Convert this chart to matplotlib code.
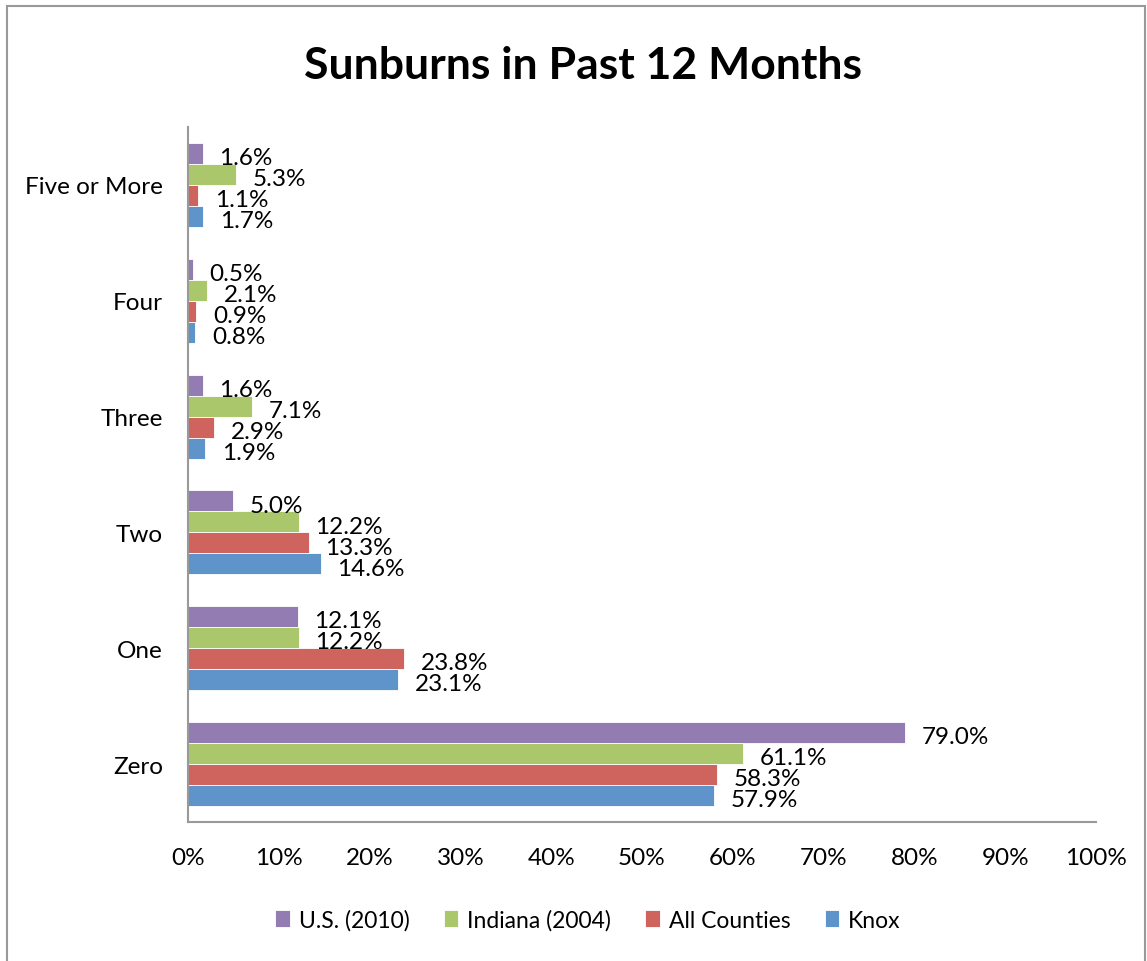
import numpy as np
import matplotlib.pyplot as plt
from matplotlib.patches import Rectangle

categories = ['Zero', 'One', 'Two', 'Three', 'Four', 'Five or More']
knox = [57.9, 23.1, 14.6, 1.9, 0.8, 1.7]
all_counties = [58.3, 23.8, 13.3, 2.9, 0.9, 1.1]
indiana = [61.1, 12.2, 12.2, 7.1, 2.1, 5.3]
us = [79.0, 12.1, 5.0, 1.6, 0.5, 1.6]
x_ticks = [0, 10, 20, 30, 40, 50, 60, 70, 80, 90, 100]

series = [
    ('Knox', knox, '#5F94CB'),
    ('All Counties', all_counties, '#CF645F'),
    ('Indiana (2004)', indiana, '#ABC76C'),
    ('U.S. (2010)', us, '#937CB2'),
]

plt.rcParams['font.family'] = ['Lato', 'DejaVu Sans']

fig = plt.figure(figsize=(11.47, 9.62), dpi=100)
ax = fig.add_axes([188/1147, 1 - 823/962, (1096 - 188)/1147, (823 - 128)/962])

y = np.arange(len(categories))
h = 0.181
handles = []
for i, (name, vals, col) in enumerate(series):
    pos = y + (i - 1.5) * h
    bars = ax.barh(pos, vals, height=h, color=col, edgecolor='white', linewidth=0.6, label=name)
    handles.append(bars)
    for p, v in zip(pos, vals):
        ax.annotate('{:.1f}%'.format(v), (v, p), xytext=(12, -3), textcoords='offset points',
                    ha='left', va='center', fontsize=17.5)

ax.set_xlim(0, 100)
ax.set_ylim(-0.5, 5.5)
ax.set_xticks(x_ticks)
ax.set_xticklabels(['{}%'.format(t) for t in x_ticks], fontsize=17.5)
ax.set_yticks(y)
ax.set_yticklabels(categories, fontsize=17.5)
ax.tick_params(axis='x', length=0, pad=18)
ax.tick_params(axis='y', length=0, pad=18)
for s in ['top', 'right']:
    ax.spines[s].set_visible(False)
for s in ['left', 'bottom']:
    ax.spines[s].set_color('#999999')
    ax.spines[s].set_linewidth(1.5)

fig.text(583/1147, 1 - 66/962, 'Sunburns in Past 12 Months', ha='center', va='center',
         fontsize=32, fontweight='bold')

fig.legend(handles[::-1], [s[0] for s in series][::-1], loc='center', bbox_to_anchor=(588/1147, 1 - 921/962),
           ncol=4, frameon=False, fontsize=16.5, handlelength=0.62, handleheight=0.75,
           handletextpad=0.4, columnspacing=1.5)

fig.patches.append(Rectangle((7/1147, -0.1), (1145 - 7)/1147, 1.1 - 7/962, transform=fig.transFigure,
                             fill=False, edgecolor='#999999', linewidth=1.5))

fig.savefig('out.png', dpi=100)
